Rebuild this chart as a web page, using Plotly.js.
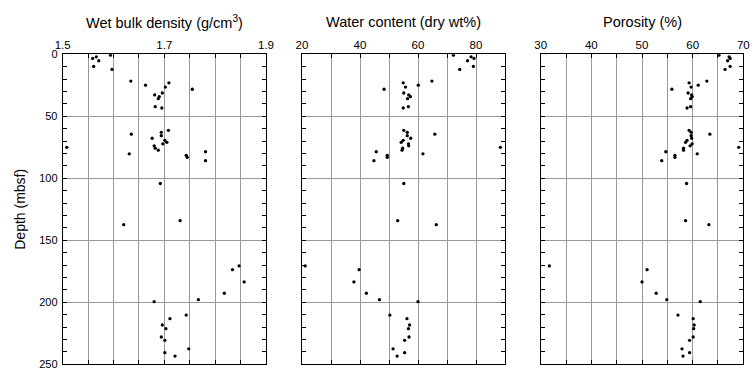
<!DOCTYPE html>
<html>
<head>
<meta charset="utf-8">
<script src="https://cdn.plot.ly/plotly-3.0.1.min.js"></script>
<style>
html,body{margin:0;padding:0;background:#fff;}
#chart{width:756px;height:379px;}
</style>
</head>
<body>
<div id="chart"></div>
<script>
// Depth of each sample (mbsf)
const depth = [0.7, 2.0, 3.3, 5.2, 9.8, 12.2, 21.6, 23.0, 24.9, 26.4, 28.2, 31.2, 32.8, 34.2, 35.8, 42.2, 43.3,
  61.3, 62.9, 64.4, 65.6, 67.7, 69.4, 71.0, 72.2, 73.8, 75.0, 75.7, 77.3, 78.6, 80.3, 81.5, 83.1, 85.8,
  104.2, 134.2, 137.4,
  170.7, 173.7, 183.6, 192.7, 197.9, 199.5, 210.3, 213.2, 218.3, 221.3, 228.0, 230.7, 237.5, 240.6, 243.4];
// Wet bulk density (g/cm3)
const density = [1.594, 1.566, 1.559, 1.571, 1.561, 1.597, 1.634, 1.709, 1.663, 1.702, 1.755, 1.696, 1.681, 1.690, 1.688, 1.682, 1.695,
  1.708, 1.694, 1.635, 1.694, 1.676, 1.701, 1.705, 1.697, 1.680, 1.508, 1.682, 1.688, 1.781, 1.631, 1.743, 1.745, 1.781,
  1.692, 1.731, 1.620,
  1.847, 1.834, 1.857, 1.818, 1.767, 1.680, 1.743, 1.711, 1.696, 1.703, 1.694, 1.701, 1.748, 1.701, 1.721];
// Water content (dry wt%)
const water = [72.2, 78.3, 79.3, 77.1, 79.1, 74.4, 64.8, 54.9, 60.1, 55.7, 48.3, 55.1, 56.8, 57.4, 56.4, 56.7, 54.9,
  55.1, 56.3, 65.8, 56.3, 57.5, 54.9, 54.2, 56.7, 56.8, 88.4, 54.7, 54.5, 45.6, 61.7, 49.4, 49.4, 44.8,
  55.1, 53.0, 66.3,
  21.1, 39.7, 37.9, 42.2, 46.7, 60.0, 50.3, 56.2, 57.1, 56.7, 56.9, 55.4, 51.4, 55.4, 52.8];
// Porosity (%)
const porosity = [65.2, 67.2, 67.4, 66.9, 67.4, 66.4, 62.8, 59.3, 61.1, 59.7, 55.9, 59.1, 59.8, 59.9, 59.6, 59.6, 58.9,
  59.3, 59.7, 63.4, 59.7, 59.8, 58.9, 58.6, 59.9, 59.5, 69.1, 58.2, 58.2, 54.7, 60.9, 56.5, 56.5, 53.9,
  58.8, 58.6, 63.2,
  31.7, 51.0, 50.0, 52.8, 54.9, 61.5, 57.1, 60.1, 60.3, 60.2, 60.1, 59.4, 57.9, 59.4, 58.1];

const panelTitles = ['Wet bulk density (g/cm<sup>3</sup>)', 'Water content (dry wt%)', 'Porosity (%)'];
const xRanges = [[1.5, 1.9], [20, 90], [30, 70]];
const xMajor = [0.2, 20, 10];
const xMinor = [0.05, 10, 5];
const yTitle = 'Depth (mbsf)';

const W = 756, H = 379;
const xDom = [[62.7, 266], [302, 505], [540.7, 743.3]];
const yTop = 54.3, yBot = 364.3;
const yDomain = [(H - yBot) / H, (H - yTop) / H];
const font = 'Liberation Sans, Arial, Helvetica, sans-serif';

const series = [density, water, porosity];
const data = series.map((vals, i) => ({
  type: 'scatter', mode: 'markers',
  x: vals, y: depth,
  xaxis: 'x' + (i ? i + 1 : ''), yaxis: 'y' + (i ? i + 1 : ''),
  marker: {color: '#000', size: 3.3},
  hoverinfo: 'skip'
}));

const layout = {
  width: W, height: H,
  margin: {l: 0, r: 0, t: 0, b: 0},
  paper_bgcolor: '#fff', plot_bgcolor: '#fff',
  showlegend: false,
  font: {family: font, size: 12, color: '#000'},
  annotations: []
};

for (let i = 0; i < 3; i++) {
  const sfx = i ? String(i + 1) : '';
  layout['xaxis' + sfx] = {
    domain: [xDom[i][0] / W, xDom[i][1] / W],
    range: xRanges[i],
    side: 'top',
    anchor: 'y' + sfx,
    tick0: xRanges[i][0], dtick: xMajor[i],
    ticks: 'inside', ticklen: 4, tickcolor: '#000',
    showgrid: true, gridcolor: '#999999', gridwidth: 1,
    minor: {dtick: xMinor[i], tick0: xRanges[i][0], showgrid: true, gridcolor: '#999999', gridwidth: 1, ticks: 'inside', ticklen: 4, tickcolor: '#000'},
    showline: true, linecolor: '#000', linewidth: 1, mirror: 'allticks',
    zeroline: false,
    tickfont: {family: font, size: 11.5, color: '#000'},
    fixedrange: true
  };
  layout['yaxis' + sfx] = {
    domain: yDomain,
    range: [250, 0],
    anchor: 'x' + sfx,
    tick0: 0, dtick: 50,
    ticks: 'inside', ticklen: 4, tickcolor: '#000',
    showgrid: true, gridcolor: '#999999', gridwidth: 1,
    minor: {dtick: 10, ticks: 'inside', ticklen: 4, tickcolor: '#000', showgrid: false},
    showline: true, linecolor: '#000', linewidth: 1, mirror: 'allticks',
    zeroline: false,
    showticklabels: i === 0,
    tickfont: {family: font, size: 11, color: '#000'},
    ticklabelstandoff: 2,
    fixedrange: true
  };
  layout.annotations.push({
    text: panelTitles[i], xref: 'paper', yref: 'paper',
    x: (xDom[i][0] + xDom[i][1]) / 2 / W, y: (H - 22) / H,
    xanchor: 'center', yanchor: 'middle', showarrow: false,
    font: {family: font, size: 14.5, color: '#000'}
  });
}
layout.yaxis.title = {text: yTitle, font: {family: font, size: 14, color: '#000'}, standoff: 10};

Plotly.newPlot('chart', data, layout, {staticPlot: true, displayModeBar: false});
</script>
</body>
</html>
